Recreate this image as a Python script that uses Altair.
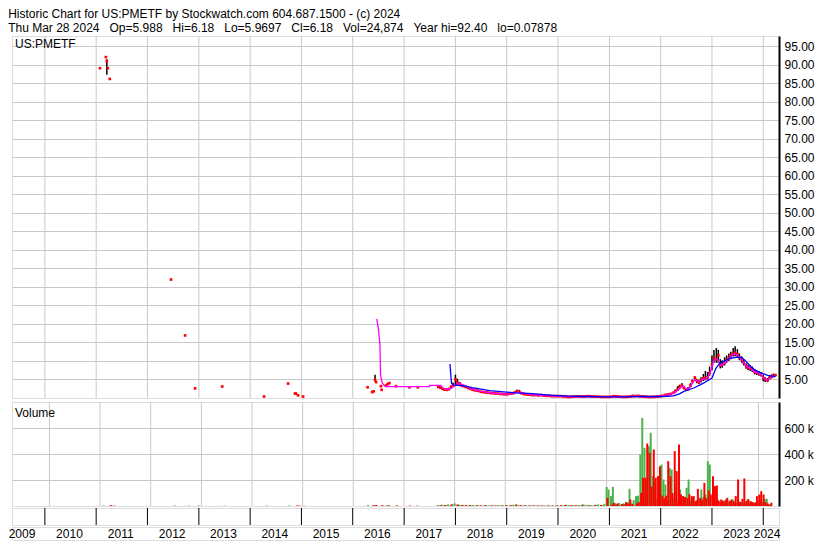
import altair as alt
import pandas as pd

FONT = "Liberation Sans, Arial, sans-serif"
NB = "\u00a0"
TITLE1 = "Historic Chart for US:PMETF by Stockwatch.com 604.687.1500 - (c) 2024"
TITLE2 = (NB * 3).join(["Thu Mar 28 2024", "Op=5.988", "Hi=6.18", "Lo=5.9697", "Cl=6.18",
                        "Vol=24,874", "Year hi=92.40", "lo=0.07878"])

# ---------------- data ----------------
YEAR_LINES = list(range(2010, 2025))
LABEL_YEARS = [str(y) for y in range(2009, 2025)]
LABEL_DATES = ["2009-07-22"] + [f"{y}-06-25" for y in range(2010, 2024)] + ["2024-01-28"]

# sparse early prices
early_dates = ["2011-01-28", "2011-03-11", "2011-03-18", "2011-03-25", "2011-04-08",
               "2012-06-17", "2012-09-25", "2012-12-05", "2013-06-16", "2014-04-10",
               "2014-09-28", "2014-11-16", "2014-11-23", "2014-12-08", "2015-01-13",
               "2016-04-16", "2016-05-18", "2016-05-29", "2016-06-08", "2016-06-15",
               "2016-07-20", "2016-07-25", "2016-08-26", "2016-09-06", "2016-09-18",
               "2016-11-04", "2017-02-08", "2017-04-08"]
early_close = [89.1, 92.1, 91.0, 89.1, 86.2, 32.0, 16.9, 2.6, 3.1, 0.4, 3.9, 1.2, 1.2, 0.7, 0.4,
               2.9, 1.6, 1.8, 4.9, 4.3, 3.2, 2.2, 3.4, 3.8, 4.0, 3.2, 2.9, 2.9]
early_high = [89.1, 92.4, 91.5, 89.1, 86.2, 32.0, 16.9, 2.6, 3.1, 0.4, 3.9, 1.2, 1.2, 0.7, 0.4,
              2.9, 1.6, 1.8, 6.3, 4.3, 3.2, 2.2, 3.4, 3.8, 4.0, 3.2, 2.9, 2.9]
early_low = [89.1, 92.1, 87.3, 89.1, 86.2, 32.0, 16.9, 2.6, 3.1, 0.4, 3.9, 1.2, 1.2, 0.7, 0.4,
             2.9, 1.6, 1.8, 4.5, 4.3, 3.2, 2.2, 3.4, 3.8, 4.0, 3.2, 2.9, 2.9]
early_vol_g = [4, 0, 0, 3, 0, 0, 0, 0, 3, 0, 4, 0, 0, 0, 2, 6, 0, 5, 0, 6, 0, 0, 5, 0, 4, 0, 0, 5]
early_vol_r = [0, 5, 3, 0, 3, 3, 2, 3, 0, 2, 0, 3, 3, 2, 0, 0, 5, 0, 8, 0, 4, 5, 0, 6, 0, 5, 4, 0]

# semi-monthly prices from Sep 2017 to Mar 2024
close_2017 = [3.0, 2.8, 2.5, 2.3, 2.2, 2.4, 3.0, 3.6]
close_2018 = [5.0, 4.2, 3.8, 3.4, 3.2, 3.0, 2.7, 2.5, 2.3, 2.1, 2.0, 1.9, 1.7, 1.6, 1.5, 1.5, 1.4, 1.3, 1.3, 1.2, 1.2, 1.1, 1.1, 1.0]
close_2019 = [1.0, 1.1, 1.2, 1.3, 1.5, 1.8, 1.6, 1.3, 1.1, 1.0, 0.9, 0.9, 0.8, 0.8, 0.8, 0.7, 0.8, 0.7, 0.6, 0.6, 0.6, 0.5, 0.5, 0.5]
close_2020 = [0.5, 0.5, 0.45, 0.4, 0.35, 0.25, 0.3, 0.35, 0.4, 0.4, 0.45, 0.4, 0.4, 0.45, 0.5, 0.45, 0.4, 0.4, 0.35, 0.35, 0.3, 0.3, 0.3, 0.3]
close_2021 = [0.3, 0.35, 0.5, 0.45, 0.4, 0.35, 0.3, 0.3, 0.3, 0.35, 0.4, 0.5, 0.5, 0.55, 0.5, 0.45, 0.4, 0.35, 0.3, 0.25, 0.3, 0.3, 0.35, 0.4]
close_2022 = [0.5, 0.6, 0.8, 0.9, 1.0, 1.1, 1.4, 1.8, 2.3, 3.0, 3.5, 2.8, 2.3, 2.4, 3.4, 4.5, 5.5, 4.6, 4.3, 4.9, 5.3, 5.4, 5.6, 6.8]
close_2023 = [9.0, 10.8, 10.5, 11.5, 8.8, 9.0, 9.6, 10.3, 10.8, 11.5, 12.0, 12.2, 11.8, 11.0, 10.3, 9.5, 8.6, 8.2, 8.0, 7.8, 7.0, 6.9, 6.7, 6.4]
close_2024 = [5.4, 5.0, 4.8, 5.5, 5.8, 6.0, 6.18]

high_2017 = [3.3, 3.1, 2.8, 2.6, 2.5, 2.8, 3.4, 4.2]
high_2018 = [6.3, 5.2, 4.3, 3.8, 3.5, 3.3, 3.0, 2.8, 2.5, 2.3, 2.2, 2.1, 1.9, 1.8, 1.7, 1.6, 1.5, 1.5, 1.4, 1.4, 1.3, 1.3, 1.2, 1.2]
high_2019 = [1.2, 1.3, 1.4, 1.6, 1.9, 2.3, 2.2, 1.5, 1.3, 1.1, 1.0, 1.0, 0.9, 0.9, 0.9, 0.8, 0.9, 0.8, 0.7, 0.7, 0.7, 0.6, 0.6, 0.6]
high_2020 = [0.6, 0.6, 0.55, 0.5, 0.45, 0.4, 0.4, 0.45, 0.5, 0.5, 0.55, 0.5, 0.5, 0.55, 0.6, 0.55, 0.5, 0.5, 0.45, 0.45, 0.4, 0.4, 0.4, 0.4]
high_2021 = [0.4, 0.5, 0.8, 0.6, 0.5, 0.45, 0.4, 0.4, 0.4, 0.45, 0.6, 0.9, 0.7, 0.75, 0.9, 0.6, 0.5, 0.45, 0.4, 0.35, 0.4, 0.4, 0.45, 0.5]
high_2022 = [0.6, 0.7, 0.95, 1.1, 1.2, 1.4, 1.7, 2.3, 3.2, 3.6, 4.0, 3.3, 2.7, 3.0, 4.0, 5.0, 5.9, 5.2, 4.9, 5.6, 6.5, 7.3, 7.0, 8.5]
high_2023 = [11.5, 13.0, 13.5, 13.0, 10.5, 10.2, 11.0, 11.5, 12.0, 12.5, 13.5, 14.0, 13.2, 12.0, 11.2, 10.5, 9.4, 9.0, 8.8, 8.5, 7.8, 7.5, 7.3, 7.0]
high_2024 = [6.3, 5.6, 5.4, 6.0, 6.4, 6.6, 6.18]

low_2017 = [2.7, 2.5, 2.2, 2.0, 1.9, 2.1, 2.6, 3.1]
low_2018 = [3.5, 3.4, 3.3, 3.0, 2.9, 2.7, 2.4, 2.2, 2.0, 1.9, 1.8, 1.7, 1.5, 1.4, 1.3, 1.3, 1.2, 1.2, 1.1, 1.1, 1.0, 1.0, 0.9, 0.9]
low_2019 = [0.9, 0.9, 1.0, 1.1, 1.3, 1.5, 1.3, 1.1, 0.9, 0.9, 0.8, 0.8, 0.7, 0.7, 0.7, 0.6, 0.7, 0.6, 0.5, 0.5, 0.5, 0.4, 0.4, 0.4]
low_2020 = [0.4, 0.4, 0.35, 0.3, 0.25, 0.15, 0.2, 0.25, 0.3, 0.3, 0.35, 0.3, 0.3, 0.35, 0.4, 0.35, 0.3, 0.3, 0.25, 0.25, 0.2, 0.2, 0.2, 0.2]
low_2021 = [0.2, 0.25, 0.35, 0.35, 0.3, 0.25, 0.2, 0.2, 0.2, 0.25, 0.3, 0.35, 0.4, 0.4, 0.35, 0.35, 0.3, 0.25, 0.2, 0.1, 0.2, 0.2, 0.25, 0.3]
low_2022 = [0.4, 0.5, 0.65, 0.75, 0.85, 0.95, 1.2, 1.5, 1.9, 2.5, 2.9, 2.3, 1.9, 2.0, 2.9, 3.9, 4.7, 4.0, 3.8, 4.2, 4.6, 4.8, 5.0, 6.0]
low_2023 = [7.5, 9.5, 9.5, 9.5, 8.0, 8.2, 8.8, 9.5, 10.0, 10.5, 11.2, 11.3, 10.8, 10.2, 9.5, 8.8, 7.9, 7.5, 7.3, 7.0, 6.4, 6.2, 6.0, 5.8]
low_2024 = [4.5, 4.3, 4.3, 5.0, 5.3, 5.6, 5.97]

# semi-monthly volumes (thousands), up-volume (green) and down-volume (red)
volg_2017 = [8, 0, 10, 0, 6, 12, 0, 15]
volg_2018 = [20, 0, 10, 0, 8, 0, 6, 0, 5, 8, 0, 6, 0, 5, 0, 6, 4, 0, 5, 0, 4, 6, 0, 5]
volg_2019 = [0, 6, 0, 8, 10, 0, 6, 0, 5, 0, 4, 0, 5, 0, 4, 0, 5, 0, 3, 4, 0, 5, 0, 4]
volg_2020 = [0, 5, 0, 6, 0, 10, 8, 0, 6, 0, 5, 8, 0, 12, 10, 0, 8, 6, 0, 10, 12, 0, 8, 15]
volg_2021 = [147, 127, 76, 147, 24, 15, 24, 10, 20, 15, 30, 132, 20, 45, 76, 80, 396, 678, 447, 200, 460, 563, 230, 180]
volg_2022 = [60, 90, 319, 204, 165, 40, 294, 280, 60, 150, 50, 128, 76, 60, 140, 204, 40, 60, 30, 45, 50, 127, 70, 88]
volg_2023 = [345, 319, 80, 60, 40, 50, 30, 45, 35, 55, 30, 40, 50, 30, 25, 37, 30, 20, 30, 55, 25, 30, 20, 30]
volg_2024 = [40, 50, 30, 55, 55, 15, 10]

volr_2017 = [0, 6, 0, 8, 0, 0, 10, 0]
volr_2018 = [0, 12, 0, 8, 0, 6, 0, 7, 0, 0, 6, 0, 5, 0, 6, 0, 0, 5, 0, 4, 0, 0, 5, 0]
volr_2019 = [5, 0, 6, 0, 0, 12, 0, 6, 0, 5, 0, 4, 0, 5, 0, 4, 0, 4, 0, 0, 5, 0, 4, 0]
volr_2020 = [5, 0, 6, 0, 8, 0, 0, 7, 0, 6, 0, 0, 8, 0, 0, 6, 0, 0, 7, 0, 0, 8, 0, 0]
volr_2021 = [63, 0, 10, 24, 10, 20, 0, 15, 10, 30, 20, 50, 15, 0, 20, 30, 100, 217, 217, 481, 409, 150, 435, 217]
volr_2022 = [230, 306, 80, 60, 80, 345, 229, 100, 422, 268, 473, 90, 76, 70, 60, 90, 76, 76, 40, 132, 63, 50, 178, 60]
volr_2023 = [120, 90, 229, 153, 158, 40, 50, 37, 45, 63, 40, 50, 35, 76, 204, 30, 55, 212, 40, 50, 37, 30, 25, 76]
volr_2024 = [88, 114, 88, 30, 20, 10, 25]

# short moving average (magenta)
mas_dates = ["2016-06-20", "2016-07-01", "2016-07-13", "2016-07-17", "2016-07-29", "2016-08-20",
             "2017-06-29", "2017-07-01", "2017-09-19", "2017-10-01", "2017-11-01", "2017-12-01",
             "2018-01-01", "2018-01-20", "2018-02-15", "2018-03-15", "2018-04-15", "2018-05-15",
             "2018-06-15", "2018-07-15", "2018-08-15", "2018-09-15", "2018-10-15", "2018-11-15", "2018-12-15",
             "2019-01-15", "2019-02-15", "2019-03-15", "2019-04-15", "2019-05-15", "2019-06-15",
             "2019-08-01", "2019-10-01", "2019-12-01",
             "2020-02-01", "2020-04-01", "2020-06-01", "2020-08-01", "2020-10-01", "2020-12-01",
             "2021-02-01", "2021-04-01", "2021-06-15", "2021-08-01", "2021-10-01", "2021-12-01",
             "2022-01-15", "2022-02-15", "2022-03-15", "2022-04-15", "2022-05-15", "2022-06-01",
             "2022-06-15", "2022-07-01", "2022-07-15", "2022-08-01", "2022-08-15", "2022-09-01",
             "2022-09-15", "2022-10-01", "2022-10-15", "2022-11-01", "2022-12-01", "2022-12-15",
             "2023-01-01", "2023-01-15", "2023-02-01", "2023-02-15", "2023-03-01", "2023-03-15",
             "2023-04-01", "2023-04-15", "2023-05-01", "2023-05-15", "2023-06-01", "2023-06-15",
             "2023-07-01", "2023-07-15", "2023-08-01", "2023-08-15", "2023-09-01", "2023-10-01",
             "2023-11-01", "2023-12-01", "2023-12-15",
             "2024-01-01", "2024-01-20", "2024-02-10", "2024-03-01", "2024-03-28"]
mas_vals = [21.4, 18.9, 14.4, 6.2, 4.0, 3.1,
            3.1, 3.4, 3.4, 2.7, 2.3, 2.6,
            3.4, 4.0, 3.7, 3.2, 2.6, 2.2, 2.0, 1.7, 1.5, 1.35, 1.25, 1.15, 1.05,
            1.05, 1.2, 1.5, 1.5, 1.1, 0.9, 0.8, 0.65, 0.5,
            0.45, 0.3, 0.4, 0.45, 0.35, 0.3,
            0.45, 0.32, 0.45, 0.5, 0.32, 0.35,
            0.55, 0.85, 1.05, 1.6, 2.5, 3.2, 3.0, 2.5, 2.4, 3.0, 4.0, 5.0, 4.7, 4.4, 4.7, 5.1, 5.5, 6.5,
            8.5, 10.2, 10.6, 10.2, 8.8, 8.8, 9.4, 10.0, 10.6, 11.2, 11.8, 11.9, 11.6, 11.0, 10.3, 9.4,
            8.6, 8.1, 7.0, 6.7, 6.3,
            5.5, 4.9, 5.1, 5.8, 6.0]

# long moving average (blue)
mal_dates = ["2017-11-23", "2017-12-04", "2017-12-22",
             "2018-03-01", "2018-05-01", "2018-07-01", "2018-09-01", "2018-11-01",
             "2019-01-01", "2019-03-01", "2019-05-01", "2019-07-01", "2019-09-01", "2019-11-01",
             "2020-01-01", "2020-04-01", "2020-07-01", "2020-10-01",
             "2021-01-01", "2021-04-01", "2021-07-01", "2021-10-01",
             "2022-01-01", "2022-02-15", "2022-04-01", "2022-05-15", "2022-06-15", "2022-08-25", "2022-11-01",
             "2023-01-01", "2023-01-30", "2023-02-25", "2023-03-25", "2023-05-15", "2023-06-25", "2023-07-31",
             "2023-09-01", "2023-10-01", "2023-11-01", "2023-12-01",
             "2024-01-01", "2024-02-01", "2024-03-28"]
mal_vals = [9.2, 4.0, 3.5,
            3.3, 2.8, 2.4, 2.0, 1.8,
            1.6, 1.4, 1.3, 1.2, 1.0, 0.8,
            0.65, 0.5, 0.4, 0.35,
            0.3, 0.3, 0.35, 0.4,
            0.4, 0.45, 0.6, 1.1, 1.8, 2.7, 4.0,
            5.4, 8.1, 9.4, 9.9, 10.8, 11.0, 11.0,
            9.9, 8.6, 7.6, 7.0,
            6.6, 6.1, 5.8]

# ---------------- tables ----------------
sm_dates = list(pd.date_range("2017-09-01", "2024-03-15", freq="SMS")) + [pd.Timestamp("2024-03-28")]
sm_close = close_2017 + close_2018 + close_2019 + close_2020 + close_2021 + close_2022 + close_2023 + close_2024
sm_high = high_2017 + high_2018 + high_2019 + high_2020 + high_2021 + high_2022 + high_2023 + high_2024
sm_low = low_2017 + low_2018 + low_2019 + low_2020 + low_2021 + low_2022 + low_2023 + low_2024
sm_vg = volg_2017 + volg_2018 + volg_2019 + volg_2020 + volg_2021 + volg_2022 + volg_2023 + volg_2024
sm_vr = volr_2017 + volr_2018 + volr_2019 + volr_2020 + volr_2021 + volr_2022 + volr_2023 + volr_2024

all_dates = list(pd.to_datetime(early_dates)) + sm_dates
price_df = pd.DataFrame({
    "date": all_dates,
    "close": early_close + sm_close,
    "high": early_high + sm_high,
    "low": early_low + sm_low,
})
vol_df = pd.DataFrame({
    "date": all_dates,
    "g": [v * 1000 for v in early_vol_g + sm_vg],
    "r": [v * 1000 for v in early_vol_r + sm_vr],
})
vol_df["date_r"] = vol_df["date"] + pd.Timedelta(days=6)
mas_df = pd.DataFrame({"date": pd.to_datetime(mas_dates), "v": mas_vals})
mal_df = pd.DataFrame({"date": pd.to_datetime(mal_dates), "v": mal_vals})
years_df = pd.DataFrame({"d": pd.to_datetime([f"{y}-01-01" for y in YEAR_LINES])})
labels_df = pd.DataFrame({"d": pd.to_datetime(LABEL_DATES), "t": LABEL_YEARS})

# ---------------- layout ----------------
W = 767
HP = 362
HV = 104
HB = 17
HL = 13
GRID = "#c8c8c8"

xscale = alt.Scale(domain=[alt.DateTime(year=2009, month=5, date=12),
                           alt.DateTime(year=2024, month=4, date=22)])
X_AXIS = None

yp_scale = alt.Scale(domain=[0, 97.8], nice=False, zero=False)
yp_axis = alt.Axis(orient="right", values=[5 * i for i in range(1, 20)], format=".2f",
                   grid=True, gridColor=GRID, ticks=False, domain=True, domainColor="black",
                   domainWidth=2, labelPadding=5, labelOverlap=False, title=None,
                   labelFont=FONT, labelFontSize=12, labelColor="black")

vgrid = alt.Chart(years_df).mark_rule(color=GRID, strokeWidth=1).encode(
    x=alt.X("d:T", scale=xscale, axis=X_AXIS))

hilo = alt.Chart(price_df).mark_rule(color="black", strokeWidth=1.5).encode(
    x=alt.X("date:T", scale=xscale, axis=X_AXIS),
    y=alt.Y("low:Q", scale=yp_scale, axis=yp_axis),
    y2="high:Q")
dots = alt.Chart(price_df).mark_square(color="#ff0000", size=7, opacity=1).encode(
    x=alt.X("date:T", scale=xscale, axis=X_AXIS),
    y=alt.Y("close:Q", scale=yp_scale, axis=yp_axis))
ma_s = alt.Chart(mas_df).mark_line(color="#ff00ff", strokeWidth=1.3, clip=True).encode(
    x=alt.X("date:T", scale=xscale, axis=X_AXIS),
    y=alt.Y("v:Q", scale=yp_scale, axis=yp_axis))
ma_l = alt.Chart(mal_df).mark_line(color="#0000ff", strokeWidth=1.3, clip=True).encode(
    x=alt.X("date:T", scale=xscale, axis=X_AXIS),
    y=alt.Y("v:Q", scale=yp_scale, axis=yp_axis))
sym = alt.Chart(pd.DataFrame({"t": ["US:PMETF"]})).mark_text(
    align="left", baseline="middle", font=FONT, fontSize=12, color="black").encode(
    text="t:N", x=alt.value(3), y=alt.value(8))

price = alt.layer(vgrid, hilo, dots, ma_s, ma_l, sym).properties(width=W, height=HP)

yv_scale = alt.Scale(domain=[0, 800000], nice=False)
yv_axis = alt.Axis(orient="right", values=[200000, 400000, 600000],
                   labelExpr="format(datum.value / 1000, 'd') + ' k'",
                   grid=True, gridColor=GRID, ticks=False, domain=True, domainColor="black",
                   domainWidth=2, labelPadding=5, title=None,
                   labelFont=FONT, labelFontSize=12, labelColor="black")

bars_g = alt.Chart(vol_df).mark_bar(size=2, color="#4cb34c").encode(
    x=alt.X("date:T", scale=xscale, axis=X_AXIS),
    y=alt.Y("g:Q", scale=yv_scale, axis=yv_axis))
bars_r = alt.Chart(vol_df).mark_bar(size=2, color="#ff0000").encode(
    x=alt.X("date_r:T", scale=xscale, axis=X_AXIS),
    y=alt.Y("r:Q", scale=yv_scale, axis=yv_axis))
vlab = alt.Chart(pd.DataFrame({"t": ["Volume"]})).mark_text(
    align="left", baseline="middle", font=FONT, fontSize=12, color="black").encode(
    text="t:N", x=alt.value(3), y=alt.value(11))

volume = alt.layer(vgrid, bars_g, bars_r, vlab).properties(width=W, height=HV)

box = alt.Chart(years_df).mark_rule(color="black", strokeWidth=1).encode(
    x=alt.X("d:T", scale=xscale, axis=X_AXIS)).properties(width=W, height=HB)

labels = alt.Chart(labels_df).mark_text(
    align="center", baseline="middle", font=FONT, fontSize=12, color="black").encode(
    x=alt.X("d:T", scale=xscale, axis=X_AXIS),
    y=alt.value(HL / 2 + 0.5),
    text="t:N").properties(width=W, height=HL)

lower = alt.vconcat(volume, box, labels, spacing=0)

chart = alt.vconcat(price, lower, spacing=2).properties(
    padding=0,
    title=alt.TitleParams(text=[TITLE1, TITLE2], anchor="start", font=FONT, fontSize=12,
                          fontWeight="normal", color="black", lineHeight=14, offset=0, dx=0),
).configure_view(stroke="black", strokeWidth=2).configure(background="white")

chart.save("out.html", embed_options={"renderer": "svg", "actions": False})
